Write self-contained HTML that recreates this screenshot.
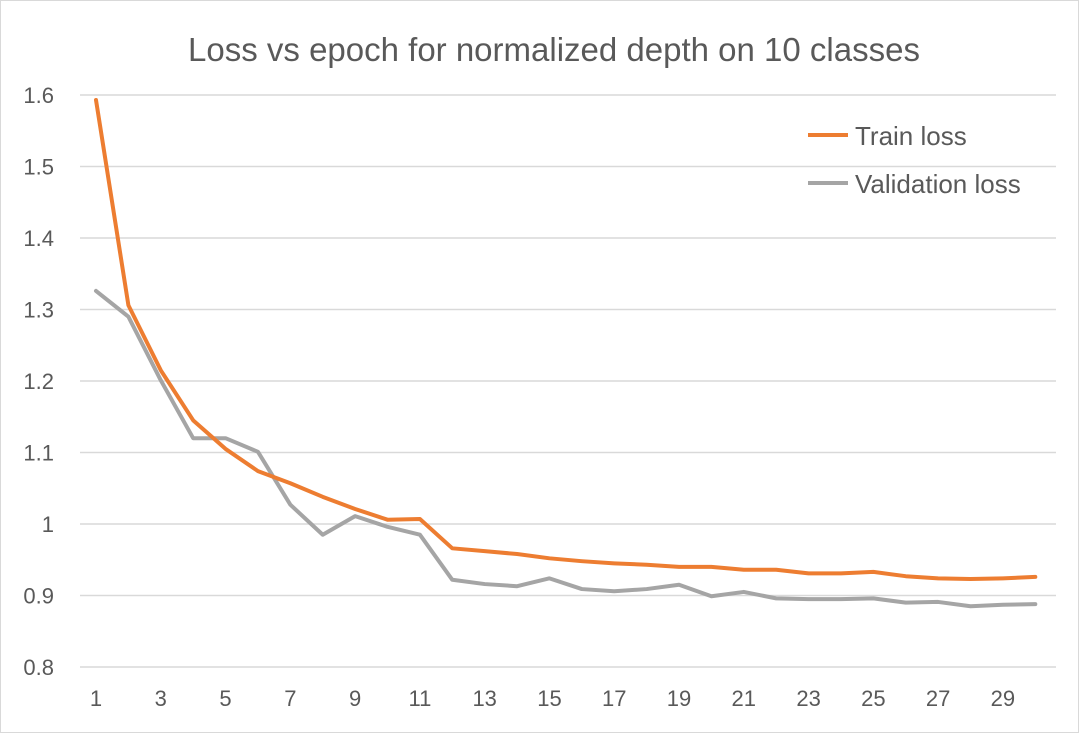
<!DOCTYPE html>
<html><head><meta charset="utf-8"><style>
body{margin:0;background:#fff;}
svg{display:block;font-family:"Liberation Sans",sans-serif;}
</style></head><body>
<svg id="chart" width="1079" height="733">
<rect x="0.5" y="0.5" width="1078" height="732" fill="#fff" stroke="#d9d9d9"/>
<text x="554" y="61" text-anchor="middle" font-size="33" fill="#595959">Loss vs epoch for normalized depth on 10 classes</text>
<g id="grid"></g><g id="yticks"></g><g id="xticks"></g><g id="series"></g>
<g>
<line x1="808" y1="135" x2="848" y2="135" stroke="#ed7d31" stroke-width="4"/>
<text x="855" y="145" font-size="26" fill="#595959">Train loss</text>
<line x1="808" y1="183" x2="848" y2="183" stroke="#a5a5a5" stroke-width="4"/>
<text x="855" y="193" font-size="26" fill="#595959">Validation loss</text>
</g>
</svg>
<script>
const epochs = [1,2,3,4,5,6,7,8,9,10,11,12,13,14,15,16,17,18,19,20,21,22,23,24,25,26,27,28,29,30];
const trainLoss = [1.593,1.306,1.215,1.145,1.105,1.074,1.057,1.038,1.021,1.006,1.007,0.966,0.962,0.958,0.952,0.948,0.945,0.943,0.940,0.940,0.936,0.936,0.931,0.931,0.933,0.927,0.924,0.923,0.924,0.926];
const valLoss = [1.326,1.290,1.201,1.120,1.120,1.101,1.027,0.985,1.011,0.996,0.985,0.922,0.916,0.913,0.924,0.909,0.906,0.909,0.915,0.899,0.905,0.896,0.895,0.895,0.896,0.890,0.891,0.885,0.887,0.888];
const yTicks = [0.8,0.9,1.0,1.1,1.2,1.3,1.4,1.5,1.6];
const yTickLabels = ["0.8","0.9","1","1.1","1.2","1.3","1.4","1.5","1.6"];
const xTickLabels = [1,3,5,7,9,11,13,15,17,19,21,23,25,27,29];

const NS="http://www.w3.org/2000/svg";
const x = e => 96 + (e-1)*32.39;
const y = v => 667 - (v-0.8)/0.8*572;
function mk(tag, attrs, parent){const el=document.createElementNS(NS,tag);for(const k in attrs)el.setAttribute(k,attrs[k]);document.getElementById(parent).appendChild(el);return el;}
yTicks.forEach((t,i)=>{
  const g=mk('line',{x1:80,x2:1056,y1:y(t),y2:y(t),stroke:'#d9d9d9','stroke-width':1.5},'grid');
  
  
  const l=mk('text',{x:54,y:y(t)+8,'text-anchor':'end','font-size':22,fill:'#595959'},'yticks');
  l.textContent=yTickLabels[i];
  
  
});
xTickLabels.forEach(e=>{
  const l=mk('text',{x:x(e),y:706,'text-anchor':'middle','font-size':22,fill:'#595959'},'xticks');
  l.textContent=e;
  
  
});
function line(data,color,name){
  const p=mk('polyline',{points:data.map((v,i)=>x(epochs[i])+','+y(v)).join(' '),fill:'none',stroke:color,'stroke-width':4,'stroke-linejoin':'round','stroke-linecap':'round'},'series');
  
  
}
line(valLoss,'#a5a5a5','validation-loss-line');
line(trainLoss,'#ed7d31','train-loss-line');
</script>
</body></html>
